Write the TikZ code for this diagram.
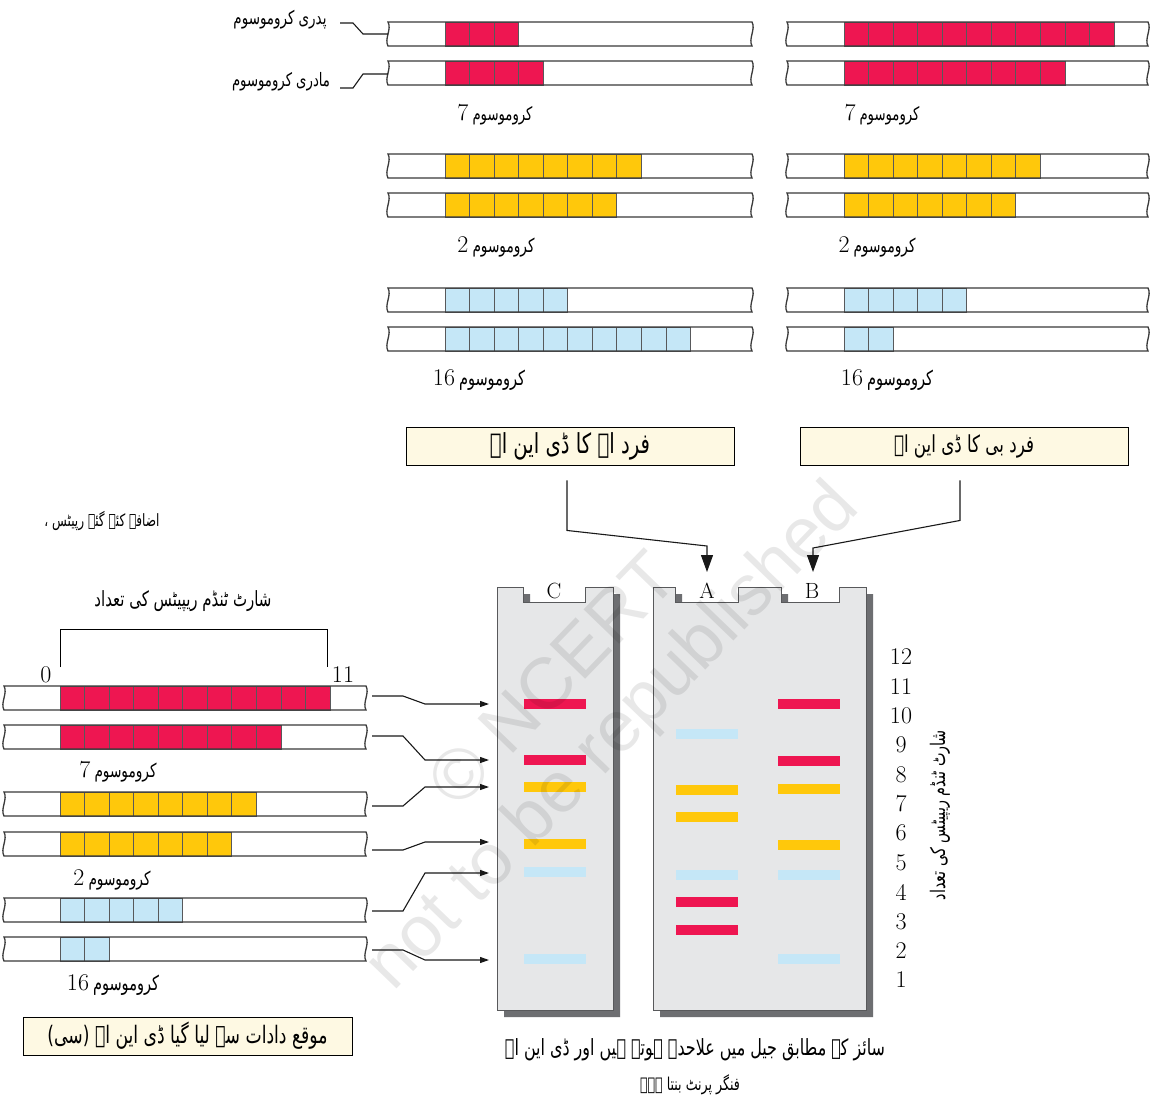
\documentclass[tikz,border=0pt]{standalone}
\usepackage{fontspec}
\usepackage{graphicx}
\usetikzlibrary{arrows.meta,calc}
\newfontfamily\urdu[Script=Arabic]{DejaVu Sans}
\newfontfamily\wmfont{Liberation Sans}
\TeXXeTstate=1
\definecolor{cred}{HTML}{EE1651}
\definecolor{cyel}{HTML}{FFC80B}
\definecolor{cblu}{HTML}{C5E7F7}
\definecolor{gelfill}{HTML}{E6E7E8}
\definecolor{gelshadow}{HTML}{6D6E71}
\definecolor{gelline}{HTML}{58595B}
\definecolor{cream}{HTML}{FEF9E3}
\definecolor{barcol}{HTML}{3A3A3A}
\newcommand{\ur}[2]{\scalebox{1}[1.4]{\resizebox{#1}{!}{\urdu #2}}}
\newcommand{\barpath}[3]{(#1,#3) -- (#2,#3) .. controls (#2+4,#3+7) and (#2-4,#3+17) .. (#2,#3+24) -- (#1,#3+24) .. controls (#1-4,#3+17) and (#1+4,#3+7) .. (#1,#3) -- cycle}
% #1 x0, #2 x1, #3 ytop, #4 box start, #5 n boxes, #6 colour
\newcommand{\chrom}[6]{%
  \path[fill=white] \barpath{#1}{#2}{#3};
  \foreach \k in {1,...,#5}{\draw[boxline,fill=#6] ({#4+(\k-1)*24.55},#3) rectangle ++(24.55,24);}
  \draw[barline] \barpath{#1}{#2}{#3};
}
\begin{document}
\begin{tikzpicture}[x={(1pt,0)},y={(0,-1pt)},
  barline/.style={draw=barcol,line width=1.3pt},
  boxline/.style={draw=gelline,line width=0.9pt},
  conn/.style={draw=black!90,line width=1.1pt},
  bigtip/.style={-{Triangle[width=12pt,length=17pt]}},
  smalltip/.style={-{Triangle[width=6pt,length=9pt]}},
  numf/.style={font=\fontsize{24}{28}\selectfont},
  lab/.style={inner sep=0pt},
  infobox/.style={draw=black,line width=0.9pt,fill=cream,inner sep=0pt,minimum height=38pt},
  gelshape/.style={fill=gelfill,draw=gelline,line width=1pt},
  band/.style={minimum width=62pt,minimum height=10pt,inner sep=0pt}]
\useasboundingbox (0,0) rectangle (1151,1108);
\fill[white] (0,0) rectangle (1151,1108);

% ---------- top chromosomes: left column (person A) ----------
\chrom{388}{752}{22}{445}{3}{cred}
\chrom{388}{752}{61}{445}{4}{cred}
\chrom{388}{752}{154}{445}{8}{cyel}
\chrom{388}{752}{193}{445}{7}{cyel}
\chrom{388}{752}{288}{445}{5}{cblu}
\chrom{388}{752}{327}{445}{10}{cblu}
% right column (person B)
\chrom{787}{1148}{22}{844}{11}{cred}
\chrom{787}{1148}{61}{844}{9}{cred}
\chrom{787}{1148}{154}{844}{8}{cyel}
\chrom{787}{1148}{193}{844}{7}{cyel}
\chrom{787}{1148}{288}{844}{5}{cblu}
\chrom{787}{1148}{327}{844}{2}{cblu}

% labels paternal / maternal
\node[lab] (pad) at (280,20) {\ur{93pt}{\beginR پدری کروموسوم\endR}};
\node[lab] (mad) at (281,82) {\ur{98pt}{\beginR مادری کروموسوم\endR}};
\coordinate (padbar) at (388,34);
\coordinate (madbar) at (388,74);
\draw[conn] (340,23) -- (353,23) -- (363,34) -- (padbar);
\draw[conn] (340,88) -- (353,88) -- (363,74) -- (madbar);

% chromosome labels top
\node[lab,numf] (c7a) at (495,115) {7\,\ur{60pt}{\beginR کروموسوم\endR}};
\node[lab,numf] (c7b) at (882,115) {7\,\ur{60pt}{\beginR کروموسوم\endR}};
\node[lab,numf] (c2a) at (496,247) {2\,\ur{62pt}{\beginR کروموسوم\endR}};
\node[lab,numf] (c2b) at (877,247) {2\,\ur{62pt}{\beginR کروموسوم\endR}};
\node[lab,numf] (c16a) at (479,380) {16\,\ur{66pt}{\beginR کروموسوم\endR}};
\node[lab,numf] (c16b) at (887,380) {16\,\ur{66pt}{\beginR کروموسوم\endR}};

% info boxes
\node[infobox,minimum width=328pt] (boxA) at (570,446) {\ur{160pt}{\beginR فرد اے کا ڈی این اے\endR}};
\node[infobox,minimum width=328pt] (boxB) at (964,446) {\ur{140pt}{\beginR فرد بی کا ڈی این اے\endR}};

% ---------- gels ----------
\fill[gelshadow] (504,594) -- (530,594) -- (530,609) -- (592,609) -- (592,594) -- (620,594) -- (620,1017) -- (504,1017) -- cycle;
\draw[gelshape] (497,587) -- (523,587) -- (523,602) -- (585,602) -- (585,587) -- (613,587) -- (613,1010) -- (497,1010) -- cycle;
\fill[gelshadow] (660,594) -- (682,594) -- (682,609) -- (745,609) -- (745,594) -- (788,594) -- (788,609) -- (846,609) -- (846,594) -- (873,594) -- (873,1017) -- (660,1017) -- cycle;
\draw[gelshape] (653,587) -- (675,587) -- (675,602) -- (738,602) -- (738,587) -- (781,587) -- (781,602) -- (839,602) -- (839,587) -- (866,587) -- (866,1010) -- (653,1010) -- cycle;
\node[font=\fontsize{22}{24}\selectfont,inner sep=0pt] (laneC) at (554,591) {C};
\node[font=\fontsize{22}{24}\selectfont,inner sep=0pt] (laneA) at (707,591) {A};
\node[font=\fontsize{22}{24}\selectfont,inner sep=0pt] (laneB) at (812,591) {B};

% bands lane C
\node[band,fill=cred] (bc1) at (555,704) {};
\node[band,fill=cred] (bc2) at (555,760) {};
\node[band,fill=cyel] (bc3) at (555,787) {};
\node[band,fill=cyel] (bc4) at (555,844) {};
\node[band,fill=cblu] (bc5) at (555,872) {};
\node[band,fill=cblu] (bc6) at (555,959) {};
% lane A
\node[band,fill=cblu] (ba1) at (707,734) {};
\node[band,fill=cyel] (ba2) at (707,790) {};
\node[band,fill=cyel] (ba3) at (707,817) {};
\node[band,fill=cblu] (ba4) at (707,875) {};
\node[band,fill=cred] (ba5) at (707,902) {};
\node[band,fill=cred] (ba6) at (707,930) {};
% lane B
\node[band,fill=cred] (bb1) at (809,704) {};
\node[band,fill=cred] (bb2) at (809,761) {};
\node[band,fill=cyel] (bb3) at (809,789) {};
\node[band,fill=cyel] (bb4) at (809,845) {};
\node[band,fill=cblu] (bb5) at (809,875) {};
\node[band,fill=cblu] (bb6) at (809,959) {};

% arrows from boxes to lanes
\coordinate (tipA) at (707,572);
\coordinate (tipB) at (813,572);
\draw[conn,bigtip] ($(boxA.south)+(-3,15)$) -- ++(0,50) -- (707,546) -- (tipA);
\draw[conn,bigtip] ($(boxB.south)+(-4,15)$) -- ++(0,40) -- (813,548) -- (tipB);

% scale numbers
\foreach \n/\yy in {12/657,11/687,10/716,9/745,8/775,7/804,6/833,5/863,4/892,3/922,2/951,1/980}{
  \node[numf,inner sep=0pt] (num\n) at (901,\yy) {\n};
}
\node[lab,rotate=90] (axlab) at (940,815) {\ur{170pt}{\beginR شارٹ ٹنڈم ریپیٹس کی تعداد\endR}};

% ---------- left: crime scene DNA ----------
\node[lab] (added) at (102,521) {\ur{115pt}{\beginR اضافہ کئے گئے رپیٹس ،\endR}};
\node[lab] (strcount) at (183,601) {\ur{177pt}{\beginR شارٹ ٹنڈم ریپیٹس کی تعداد\endR}};
\draw[line width=1pt] (60,667) -- (60,629) -- (327,629) -- (327,667);
\node[numf,inner sep=0pt] (zero) at (46,675) {0};
\node[numf,inner sep=0pt] (eleven) at (343,675) {11};

\chrom{4}{366}{686}{60}{11}{cred}
\chrom{4}{366}{725}{60}{9}{cred}
\chrom{4}{366}{792}{60}{8}{cyel}
\chrom{4}{366}{832}{60}{7}{cyel}
\chrom{4}{366}{898}{60}{5}{cblu}
\chrom{4}{366}{937}{60}{2}{cblu}

\node[lab,numf] (l7) at (118,772) {7\,\ur{62pt}{\beginR کروموسوم\endR}};
\node[lab,numf] (l2) at (112,880) {2\,\ur{62pt}{\beginR کروموسوم\endR}};
\node[lab,numf] (l16) at (113,985) {16\,\ur{66pt}{\beginR کروموسوم\endR}};

% connectors from crime-scene chromosomes to lane C
\coordinate (s1) at (372,696); \coordinate (e1) at (489,704);
\coordinate (s2) at (372,736); \coordinate (e2) at (489,760);
\coordinate (s3) at (372,806); \coordinate (e3) at (489,787);
\coordinate (s4) at (372,850); \coordinate (e4) at (489,842);
\coordinate (s5) at (372,911); \coordinate (e5) at (489,873);
\coordinate (s6) at (372,950); \coordinate (e6) at (489,960);
\draw[conn,smalltip] (s1) -- ++(31,0) -- (425,704) -- (e1);
\draw[conn,smalltip] (s2) -- ++(31,0) -- (425,760) -- (e2);
\draw[conn,smalltip] (s3) -- ++(31,0) -- (425,787) -- (e3);
\draw[conn,smalltip] (s4) -- ++(31,0) -- (425,842) -- (e4);
\draw[conn,smalltip] (s5) -- ++(31,0) -- (425,873) -- (e5);
\draw[conn,smalltip] (s6) -- ++(31,0) -- (425,960) -- (e6);

\node[infobox,minimum width=329pt] (boxC) at (187.5,1036) {\ur{280pt}{\beginR موقع دادات سے لیا گیا ڈی این اے (سی)\endR}};

% caption
\node[lab] (cap1) at (695,1050) {\ur{380pt}{\beginR سائز کے مطابق جیل میں علاحدہ ہوتے ہیں اور ڈی این اے\endR}};
\node[lab] (cap2) at (690,1085) {\ur{100pt}{\beginR فنگر پرنٹ بنتا ہے۔\endR}};

% watermark
\node[rotate=46,align=center,text=black,opacity=0.09,font=\wmfont\fontsize{72}{80}\selectfont,inner sep=0pt] (wm) at (586,711) {© NCERT\\not to be republished};
\end{tikzpicture}
\end{document}
